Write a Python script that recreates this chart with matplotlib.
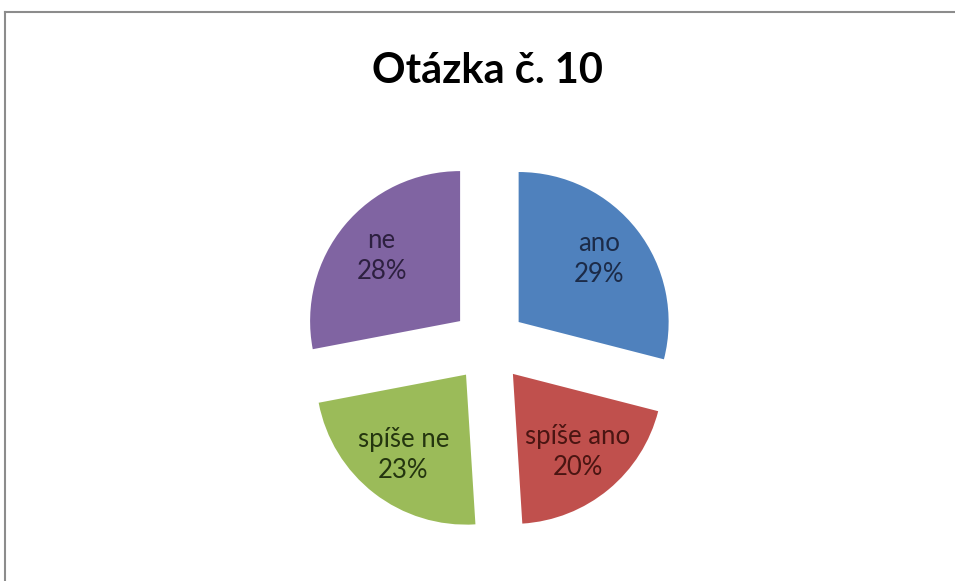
import matplotlib
matplotlib.use("Agg")
import matplotlib.pyplot as plt
from matplotlib.lines import Line2D

categories = ["ano", "spíše ano", "spíše ne", "ne"]
values = [29, 20, 23, 28]
colors = ["#4F81BD", "#C0504D", "#9BBB59", "#8064A2"]
text_colors = ["#1c2b48", "#4a1512", "#24350f", "#2d2040"]
title = "Otázka č. 10"

W, H, DPI = 955, 581, 100
fig = plt.figure(figsize=(W / DPI, H / DPI), dpi=DPI)
ax = fig.add_axes([0, 0, 1, 1])

R_PX = 150.0
cx, cy = 489.0, 581 - 345.0

idx = iter(range(len(categories)))
def fmt(p):
    i = next(idx)
    return f"{categories[i]}\n{p:.0f}%"

wedges, texts, autotexts = ax.pie(
    values, colors=colors, startangle=90, counterclock=False,
    explode=[0.25] * len(values), autopct=fmt, pctdistance=0.68,
    radius=1.0, frame=True, wedgeprops=dict(linewidth=0),
    textprops=dict(fontsize=18.5, family=["Lato", "DejaVu Sans"], linespacing=1.3),
)
ax.set_xlim((0 - cx) / R_PX, (W - cx) / R_PX)
ax.set_ylim((0 - cy) / R_PX, (H - cy) / R_PX)
ax.set_aspect("auto")
ax.axis("off")
for t, c in zip(autotexts, text_colors):
    t.set_color(c)

fig.text(487 / W, 1 - 71 / H, title, ha="center", va="center",
         fontsize=30, fontweight="bold", family=["Lato", "DejaVu Sans"], color="black")

# outer border (top and left visible)
fig.add_artist(Line2D([5 / W, 5 / W], [0, 1 - 12 / H], transform=fig.transFigure,
                      color="#8c8c8c", linewidth=1.5))
fig.add_artist(Line2D([5 / W, 1], [1 - 12 / H, 1 - 12 / H], transform=fig.transFigure,
                      color="#8c8c8c", linewidth=1.5))

fig.savefig("out.png", dpi=DPI, facecolor="white")
